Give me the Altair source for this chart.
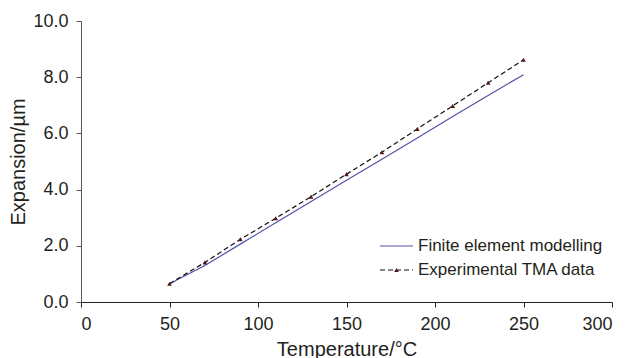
import altair as alt
import pandas as pd

temps = [50, 70, 90, 110, 130, 150, 170, 190, 210, 230, 250]
fe_model = [0.65, 1.30, 2.06, 2.82, 3.58, 4.33, 5.08, 5.84, 6.60, 7.35, 8.09]
tma_data = [0.65, 1.41, 2.23, 2.98, 3.75, 4.55, 5.33, 6.16, 6.98, 7.80, 8.62]
legend_labels = ["Finite element modelling", "Experimental TMA data"]

FONT = "Liberation Sans"
TXT = "#231f20"
BLUE = "#5252a8"
MARK = "#5a1414"

df = pd.DataFrame({"T": temps, "FE": fe_model, "TMA": tma_data})

xs = alt.Scale(domain=[0, 300], nice=False)
ys = alt.Scale(domain=[0, 10], nice=False)

xaxis = alt.Axis(values=[0, 50, 100, 150, 200, 250, 300], grid=False, tickSize=5,
                 labelPadding=8, labelFontSize=18, titleFontSize=20,
                 titleX=265.5, titleY=53, titleBaseline="alphabetic",
                 domainColor="#222222", tickColor="#222222")
yaxis = alt.Axis(values=[0, 2, 4, 6, 8, 10], format=".1f", grid=False, tickSize=5,
                 labelPadding=8, labelFontSize=18, titleFontSize=20,
                 titleX=-63, titleY=140.5, titleAngle=-90, titleAlign="center",
                 titleBaseline="middle", domainColor="#555555", tickColor="#555555")

base = alt.Chart(df)

fe_line = base.mark_line(color=BLUE, strokeWidth=1.2).encode(
    x=alt.X("T:Q", scale=xs, axis=xaxis, title="Temperature/°C"),
    y=alt.Y("FE:Q", scale=ys, axis=yaxis, title="Expansion/µm"),
)
tma_line = base.mark_line(color="#111111", strokeWidth=1.2, strokeDash=[5, 3]).encode(
    x=alt.X("T:Q", scale=xs), y=alt.Y("TMA:Q", scale=ys)
)
tma_pts = base.mark_point(shape="triangle-up", filled=True, color=MARK, size=22, opacity=1).encode(
    x=alt.X("T:Q", scale=xs), y=alt.Y("TMA:Q", scale=ys)
)

one = pd.DataFrame({"a": [0]})
leg_fe = alt.Chart(one).mark_rule(color=BLUE, strokeWidth=1.2).encode(
    x=alt.value(299), x2=alt.value(332), y=alt.value(225)
)
leg_tma = alt.Chart(one).mark_rule(color="#111111", strokeWidth=1.2, strokeDash=[5, 3]).encode(
    x=alt.value(299), x2=alt.value(332), y=alt.value(249)
)
leg_pt = alt.Chart(one).mark_point(shape="triangle-up", filled=True, color=MARK, size=22, opacity=1).encode(
    x=alt.value(315.5), y=alt.value(249)
)
leg_text1 = alt.Chart(pd.DataFrame({"label": [legend_labels[0]]})).mark_text(
    align="left", baseline="middle", font=FONT, fontSize=17, color=TXT
).encode(text="label:N", x=alt.value(337), y=alt.value(225))
leg_text2 = alt.Chart(pd.DataFrame({"label": [legend_labels[1]]})).mark_text(
    align="left", baseline="middle", font=FONT, fontSize=17, color=TXT
).encode(text="label:N", x=alt.value(337), y=alt.value(249))

chart = alt.layer(fe_line, tma_line, tma_pts, leg_fe, leg_tma, leg_pt, leg_text1, leg_text2).properties(
    width=531, height=281,
    autosize=alt.AutoSizeParams(type="none"),
    padding={"left": 81, "top": 21, "right": 17, "bottom": 56},
    background="white",
).configure_view(stroke=None).configure_axis(
    labelFont=FONT, titleFont=FONT, labelColor=TXT, titleColor=TXT, titleFontWeight="normal"
)

chart.save("out.html", embed_options={"renderer": "svg", "actions": False})
